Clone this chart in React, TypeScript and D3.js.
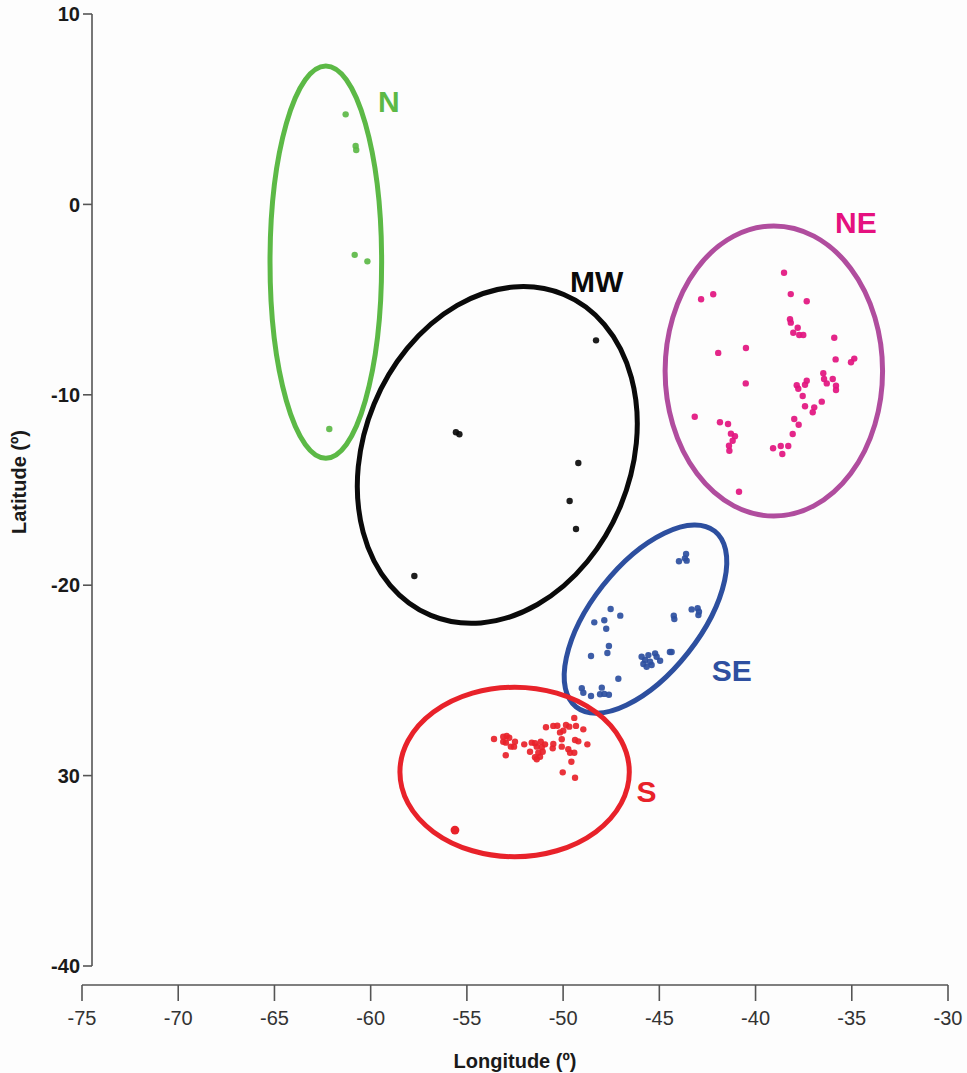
import * as d3 from "d3";

type Pt = [number, number];

// [longitude, latitude]
const nPoints: Pt[] = [
  [-61.3, 4.73], [-60.78, 3.07], [-60.75, 2.86], [-60.83, -2.65], [-60.17, -2.99], [-62.15, -11.8],
];

const mwPoints: Pt[] = [
  [-48.29, -7.14], [-55.57, -11.97], [-55.39, -12.07], [-49.21, -13.58], [-49.66, -15.58],
  [-49.33, -17.05], [-57.73, -19.52],
];

const nePoints: Pt[] = [
  [-38.52, -3.59], [-42.83, -4.98], [-42.2, -4.72], [-38.17, -4.71], [-37.34, -5.09],
  [-38.21, -6.03], [-38.17, -6.21], [-37.81, -6.48], [-38.04, -6.74], [-37.73, -6.86],
  [-37.52, -6.86], [-35.91, -7.0], [-40.5, -7.54], [-41.94, -7.8], [-35.84, -8.14],
  [-34.87, -8.1], [-35.04, -8.29], [-36.48, -8.87], [-36.44, -9.17], [-35.99, -9.17],
  [-36.3, -9.4], [-40.51, -9.4], [-37.34, -9.26], [-37.43, -9.47], [-37.86, -9.5],
  [-37.78, -9.68], [-35.82, -9.52], [-35.82, -9.75], [-37.55, -10.06], [-36.56, -10.36],
  [-37.43, -10.6], [-36.95, -10.66], [-37.03, -10.92], [-43.16, -11.15], [-41.85, -11.44],
  [-41.43, -11.53], [-37.99, -11.27], [-37.76, -11.57], [-41.28, -12.04], [-41.07, -12.18],
  [-41.19, -12.41], [-38.07, -12.06], [-41.38, -12.67], [-41.36, -12.94], [-39.09, -12.81],
  [-38.69, -12.69], [-38.3, -12.69], [-38.61, -13.11], [-40.86, -15.09],
];

const sePoints: Pt[] = [
  [-43.61, -18.36], [-43.67, -18.59], [-43.98, -18.74], [-43.58, -18.71], [-47.53, -21.25],
  [-47.03, -21.6], [-48.38, -21.95], [-47.86, -21.84], [-47.76, -22.29], [-44.25, -21.6],
  [-44.22, -21.78], [-43.32, -21.27], [-43.01, -21.21], [-42.97, -21.57], [-42.94, -21.39],
  [-47.62, -23.19], [-47.7, -23.56], [-48.55, -23.72], [-44.45, -23.51], [-44.36, -23.51],
  [-45.92, -23.76], [-45.74, -23.93], [-45.57, -23.67], [-45.22, -23.58], [-45.14, -23.76],
  [-44.96, -23.97], [-45.83, -24.14], [-45.66, -24.28], [-45.4, -24.19], [-45.48, -24.02],
  [-47.13, -24.91], [-49.03, -25.41], [-48.95, -25.65], [-48.55, -25.82], [-47.99, -25.38],
  [-48.08, -25.73], [-47.86, -25.71], [-47.62, -25.75],
];

const sPoints: Pt[] = [
  [-53.59, -28.08], [-53.11, -27.96], [-52.93, -27.92], [-52.8, -28.01], [-53.11, -28.22],
  [-52.97, -28.27], [-52.5, -28.22], [-52.72, -28.48], [-52.55, -28.48], [-52.98, -28.93],
  [-52.02, -28.36], [-51.63, -28.27], [-51.46, -28.3], [-51.16, -28.22], [-50.94, -28.36],
  [-51.37, -28.48], [-51.11, -28.51], [-51.72, -28.75], [-51.29, -28.8], [-51.06, -28.75],
  [-51.46, -29.04], [-51.2, -29.01], [-51.37, -29.14], [-50.89, -27.46], [-50.51, -27.39],
  [-50.3, -27.38], [-49.85, -27.34], [-49.68, -27.43], [-49.33, -27.39], [-49.42, -26.97],
  [-48.95, -27.57], [-50.16, -27.73], [-49.99, -27.64], [-50.07, -28.09], [-50.51, -28.34],
  [-50.54, -28.57], [-50.07, -28.48], [-49.38, -28.13], [-49.21, -28.2], [-48.74, -28.36],
  [-49.73, -28.62], [-49.64, -28.8], [-49.42, -28.8], [-49.57, -29.27], [-50.02, -29.83],
  [-49.38, -30.11],
];

const sOutlier: Pt[] = [[-55.62, -32.86]];

// ellipse: [centre lon, centre lat, semi-axis lon, semi-axis lat, tilt (deg, clockwise)]
const nEllipse = [-62.33, -3.03, 2.9, 10.3, 0];
const mwEllipse = [-53.42, -13.16, 6.93, 9.12, 22.5];
const neEllipse = [-39.05, -8.75, 5.65, 7.62, 0];
const seEllipse = [-45.72, -21.78, 2.82, 5.88, 38.2];
const sEllipse = [-52.52, -29.81, 5.96, 4.45, 0];

const groupNames = ["N", "MW", "NE", "SE", "S"];
// where each region name sits: [lon, lat] of the text start / baseline
const labelAnchors: Pt[] = [[-59.62, 4.85], [-49.64, -4.6], [-35.87, -1.5], [-42.28, -25.03], [-46.18, -31.37]];

const xTicks = [-75, -70, -65, -60, -55, -50, -45, -40, -35, -30];
const yTicks = [10, 0, -10, -20, -30, -40];
const yTickLabels = ["10", "0", "-10", "-20", "30", "-40"];

const WIDTH = 967;
const HEIGHT = 1073;
const FONT = "Liberation Sans, Arial, Helvetica, sans-serif";
const AXIS = "#555555";

const groups = [
  { points: nPoints, ellipse: nEllipse, stroke: "#5cb946", dot: "#5cb946", text: "#5cb946" },
  { points: mwPoints, ellipse: mwEllipse, stroke: "#0a0a0a", dot: "#0a0a0a", text: "#0a0a0a" },
  { points: nePoints, ellipse: neEllipse, stroke: "#b04d9e", dot: "#e2137f", text: "#e5117f" },
  { points: sePoints, ellipse: seEllipse, stroke: "#2d4f9f", dot: "#2d4f9f", text: "#2e4fa0" },
  { points: sPoints, ellipse: sEllipse, stroke: "#e8222a", dot: "#e8222a", text: "#e8222a" },
];

export default function App() {
  const x = d3.scaleLinear().domain([-75, -30]).range([82, 948]);
  const y = d3.scaleLinear().domain([10, -40]).range([14, 966]);
  const xAxisY = 985;
  const yAxisX = 92;

  return (
    <div style={{ position: "absolute", left: 0, top: 0 }}>
      <svg width={WIDTH} height={HEIGHT} viewBox={`0 0 ${WIDTH} ${HEIGHT}`} style={{ display: "block" }}>
        <rect width={WIDTH} height={HEIGHT} fill="#fdfdfd" />

        {/* y axis */}
        <line x1={yAxisX} x2={yAxisX} y1={y(10)} y2={y(-40)} stroke={AXIS} strokeWidth="1.6" />
        {yTicks.map((tick, i) => (
          <g key={tick}>
            <line x1={yAxisX - 9} x2={yAxisX} y1={y(tick)} y2={y(tick)} stroke={AXIS} strokeWidth="1.6" />
            <text
              x={yAxisX - 12}
              y={y(tick)}
              dy="0.36em"
              textAnchor="end"
              fontFamily={FONT}
              fontWeight="700"
              fontSize="20"
              fill="#1a1a1a"
            >
              {yTickLabels[i]}
            </text>
          </g>
        ))}
        <text
          transform={`translate(26 ${482}) rotate(-90)`}
          textAnchor="middle"
          fontFamily={FONT}
          fontWeight="700"
          fontSize="20"
          fill="#1a1a1a"
        >
          Latitude (º)
        </text>

        {/* x axis */}
        <line x1={x(-75)} x2={x(-30)} y1={xAxisY} y2={xAxisY} stroke={AXIS} strokeWidth="1.6" />
        {xTicks.map((tick) => (
          <g key={tick}>
            <line x1={x(tick)} x2={x(tick)} y1={xAxisY} y2={xAxisY + 16} stroke={AXIS} strokeWidth="1.6" />
            <text x={x(tick)} y={xAxisY + 40} textAnchor="middle" fontFamily={FONT} fontSize="20" fill="#333333">
              {tick}
            </text>
          </g>
        ))}
        <text
          x={(x(-75) + x(-30)) / 2}
          y={1068}
          textAnchor="middle"
          fontFamily={FONT}
          fontWeight="700"
          fontSize="20"
          fill="#1a1a1a"
        >
          Longitude (º)
        </text>

        {/* points */}
        {groups.map((group, gi) =>
          group.points.map(([lon, lat], i) => (
            <circle key={`${gi}-${i}`} cx={x(lon)} cy={y(lat)} r="3.2" fill={group.dot} fillOpacity="0.92" />
          ))
        )}
        {sOutlier.map(([lon, lat], i) => (
          <circle key={`out-${i}`} cx={x(lon)} cy={y(lat)} r="4.4" fill="#e8222a" />
        ))}

        {/* confidence ellipses */}
        {groups.map((group, gi) => {
          const [cLon, cLat, aLon, aLat, tilt] = group.ellipse;
          const cx = x(cLon);
          const cy = y(cLat);
          const rx = x(cLon + aLon) - cx;
          const ry = y(cLat - aLat) - cy;
          return (
            <ellipse
              key={`e-${gi}`}
              cx={cx}
              cy={cy}
              rx={rx}
              ry={ry}
              transform={`rotate(${tilt} ${cx} ${cy})`}
              fill="none"
              stroke={group.stroke}
              strokeWidth="5"
            />
          );
        })}

        {/* region names */}
        {groups.map((group, gi) => (
          <text
            key={`l-${gi}`}
            x={x(labelAnchors[gi][0])}
            y={y(labelAnchors[gi][1])}
            fontFamily={FONT}
            fontWeight="700"
            fontSize="30"
            fill={group.text}
          >
            {groupNames[gi]}
          </text>
        ))}
      </svg>
    </div>
  );
}
